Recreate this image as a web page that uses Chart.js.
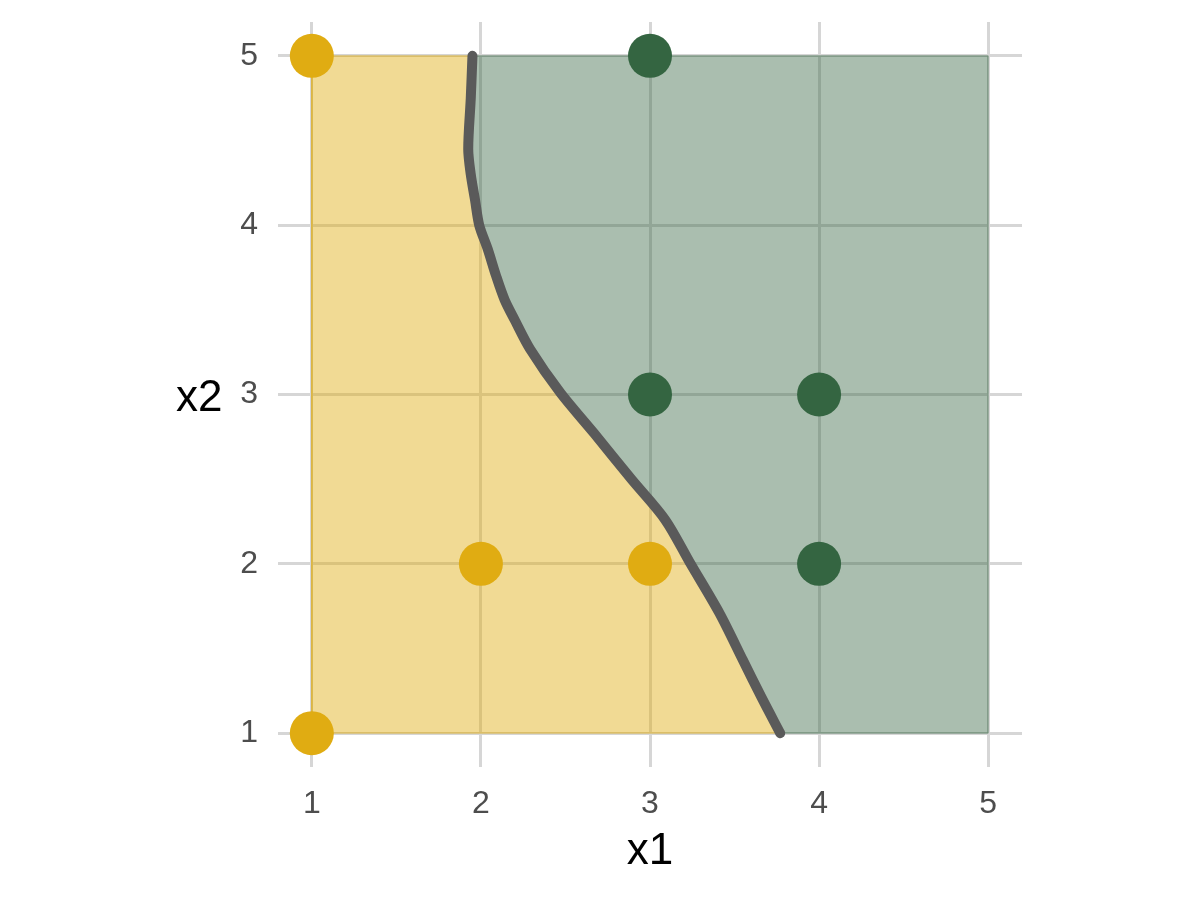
<!DOCTYPE html>
<html>
<head>
<meta charset="utf-8">
<script src="https://cdn.jsdelivr.net/npm/chart.js@4/dist/chart.umd.min.js"></script>
<style>
  body { margin: 0; background: #ffffff; }
  #wrap { position: relative; width: 1200px; height: 900px; }
  #titulo-y {
    position: absolute; left: 176px; top: 371px;
    font-family: "Liberation Sans", Arial, sans-serif; font-size: 44px; color: #000000;
  }
</style>
</head>
<body>
<div id="wrap">
  <canvas id="grafica" width="1200" height="900"></canvas>
  <div id="titulo-y">x2</div>
</div>
<script>
// Puntos observados por clase
const puntosAmarillos = [{x: 1, y: 5}, {x: 2, y: 2}, {x: 3, y: 2}, {x: 1, y: 1}];
const puntosVerdes = [{x: 3, y: 5}, {x: 3, y: 3}, {x: 4, y: 3}, {x: 4, y: 2}];

// Frontera de decisión, de arriba hacia abajo
const fronteraX = [1.95, 1.94, 1.925, 1.94, 1.965, 1.99, 2.04, 2.09, 2.14, 2.20, 2.29, 2.47, 2.67, 2.89, 3.09, 3.24, 3.41, 3.55, 3.66, 3.77];
const fronteraY = [5.00, 4.75, 4.45, 4.30, 4.15, 4.00, 3.86, 3.70, 3.56, 3.44, 3.27, 3.01, 2.77, 2.50, 2.26, 2.00, 1.71, 1.43, 1.21, 1.00];

// Límites de la región y marcas de los ejes
const limiteMin = 1;
const limiteMax = 5;
const marcas = [1, 2, 3, 4, 5];

const frontera = fronteraX.map((x, i) => ({x: x, y: fronteraY[i]}));

// Polígonos de cada región
const regionAmarilla = [{x: limiteMin, y: limiteMin}]
  .concat(frontera.slice().reverse())
  .concat([{x: limiteMin, y: limiteMax}, {x: limiteMin, y: limiteMin}]);
const regionVerde = frontera
  .concat([{x: limiteMax, y: limiteMin}, {x: limiteMax, y: limiteMax}, frontera[0]]);

const fuente = '"Liberation Sans", Arial, sans-serif';
const colorGrilla = '#d6d6d6';

const ctx = document.getElementById('grafica').getContext('2d');

new Chart(ctx, {
  type: 'scatter',
  data: {
    datasets: [
      {
        data: puntosAmarillos,
        backgroundColor: '#e0ac12',
        borderWidth: 0,
        pointRadius: 22,
        order: 0
      },
      {
        data: puntosVerdes,
        backgroundColor: '#346541',
        borderWidth: 0,
        pointRadius: 22,
        order: 0
      },
      {
        type: 'line',
        data: frontera,
        borderColor: '#5a5a5a',
        borderWidth: 10,
        borderCapStyle: 'round',
        borderJoinStyle: 'round',
        pointRadius: 0,
        fill: false,
        tension: 0.3,
        order: 1
      },
      {
        type: 'line',
        data: regionAmarilla,
        borderColor: 'rgba(224, 172, 18, 0.5)',
        borderWidth: 1,
        backgroundColor: 'rgba(224, 172, 18, 0.45)',
        pointRadius: 0,
        fill: 'shape',
        tension: 0,
        order: 2
      },
      {
        type: 'line',
        data: regionVerde,
        borderColor: 'rgba(52, 101, 65, 0.45)',
        borderWidth: 1,
        backgroundColor: 'rgba(52, 101, 65, 0.42)',
        pointRadius: 0,
        fill: 'shape',
        tension: 0,
        order: 2
      }
    ]
  },
  options: {
    responsive: false,
    animation: false,
    layout: { padding: { left: 0, right: 178, top: 22, bottom: 0 } },
    plugins: {
      legend: { display: false },
      tooltip: { enabled: false }
    },
    scales: {
      x: {
        type: 'linear',
        min: 0.8,
        max: 5.2,
        afterBuildTicks: (eje) => { eje.ticks = marcas.map(v => ({value: v})); },
        afterFit: (eje) => { eje.height = 133; eje.paddingLeft = 0; eje.paddingRight = 0; },
        border: { display: false },
        grid: { color: colorGrilla, lineWidth: 3, drawTicks: false },
        ticks: { color: '#4d4d4d', padding: 18, font: { family: fuente, size: 32 } },
        title: {
          display: true,
          text: 'x1',
          color: '#000000',
          padding: { top: 0, bottom: 22 },
          font: { family: fuente, size: 44 }
        }
      },
      y: {
        type: 'linear',
        min: 0.8,
        max: 5.2,
        afterBuildTicks: (eje) => { eje.ticks = marcas.map(v => ({value: v})); },
        afterFit: (eje) => { eje.width = 278; eje.paddingTop = 0; eje.paddingBottom = 0; },
        border: { display: false },
        grid: { color: colorGrilla, lineWidth: 3, drawTicks: false },
        ticks: { color: '#4d4d4d', padding: 20, font: { family: fuente, size: 32 } }
      }
    }
  }
});
</script>
</body>
</html>
